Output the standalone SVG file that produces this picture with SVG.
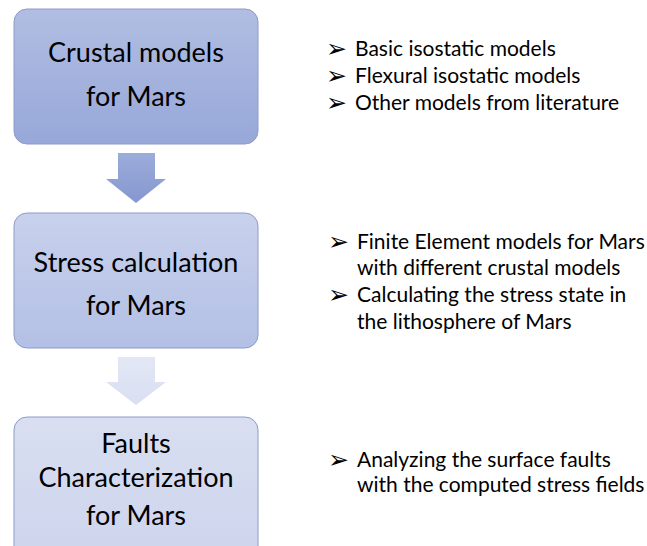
<svg xmlns="http://www.w3.org/2000/svg" width="647" height="546" viewBox="0 0 647 546">
  <defs>
    <linearGradient id="g1" x1="0" y1="0" x2="0" y2="1">
      <stop offset="0" stop-color="#b1bde2"/>
      <stop offset="1" stop-color="#97a8d9"/>
    </linearGradient>
    <linearGradient id="g2" x1="0" y1="0" x2="0" y2="1">
      <stop offset="0" stop-color="#c8d1ec"/>
      <stop offset="1" stop-color="#b3c0e5"/>
    </linearGradient>
    <linearGradient id="g3" x1="0" y1="0" x2="0" y2="1">
      <stop offset="0" stop-color="#d9dff1"/>
      <stop offset="1" stop-color="#ccd4ed"/>
    </linearGradient>
    <linearGradient id="ga1" x1="0" y1="0" x2="0" y2="1">
      <stop offset="0" stop-color="#9cacda"/>
      <stop offset="1" stop-color="#8597d0"/>
    </linearGradient>
    <linearGradient id="ga2" x1="0" y1="0" x2="0" y2="1">
      <stop offset="0" stop-color="#e3e7f5"/>
      <stop offset="1" stop-color="#d9dff2"/>
    </linearGradient>
  </defs>
  <style>
    .box { stroke: #8e9cc6; stroke-width: 1; }
    .title { font-family: Lato, "Open Sans", sans-serif; font-size: 27px; fill: #000; text-anchor: middle; }
    .item { font-family: Lato, "Open Sans", sans-serif; font-size: 21px; fill: #000; }
    .bullet { font-family: "DejaVu Sans", sans-serif; font-size: 25px; fill: #000; }
  </style>
  <rect width="647" height="546" fill="#fff"/>

  <g id="connectors">
    <path d="M118,153 H155 V179 H166 L136,203 L106,179 H118 Z" fill="url(#ga1)"/>
    <path d="M118,357 H155 V382 H166 L136,405 L106,382 H118 Z" fill="url(#ga2)"/>
  </g>

  <g id="crustal">
    <rect class="box" x="14" y="9" width="244" height="135" rx="13" fill="url(#g1)"/>
    <text class="title" x="136" y="62">Crustal models</text>
    <text class="title" x="136" y="106">for Mars</text>
  </g>

  <g id="stress">
    <rect class="box" x="14" y="213" width="244" height="135" rx="13" fill="url(#g2)"/>
    <text class="title" x="136" y="272">Stress calculation</text>
    <text class="title" x="136" y="315">for Mars</text>
  </g>

  <g id="faults">
    <rect class="box" x="14" y="417" width="244" height="150" rx="13" fill="url(#g3)"/>
    <text class="title" x="136" y="453">Faults</text>
    <text class="title" x="136" y="487">Characterization</text>
    <text class="title" x="136" y="525">for Mars</text>
  </g>

  <g id="crustal-notes">
    <text class="bullet" x="326" y="57">➢</text>
    <text class="item" x="355" y="56">Basic isostatic models</text>
    <text class="bullet" x="326" y="84">➢</text>
    <text class="item" x="355" y="83">Flexural isostatic models</text>
    <text class="bullet" x="326" y="111">➢</text>
    <text class="item" x="355" y="110">Other models from literature</text>
  </g>

  <g id="stress-notes">
    <text class="bullet" x="328" y="250">➢</text>
    <text class="item" x="357" y="249">Finite Element models for Mars</text>
    <text class="item" x="357" y="275">with different crustal models</text>
    <text class="bullet" x="328" y="303">➢</text>
    <text class="item" x="357" y="302">Calculating the stress state in</text>
    <text class="item" x="357" y="329">the lithosphere of Mars</text>
  </g>

  <g id="faults-notes">
    <text class="bullet" x="328" y="468">➢</text>
    <text class="item" x="357" y="467">Analyzing the surface faults</text>
    <text class="item" x="357" y="492">with the computed stress fields</text>
  </g>
</svg>
